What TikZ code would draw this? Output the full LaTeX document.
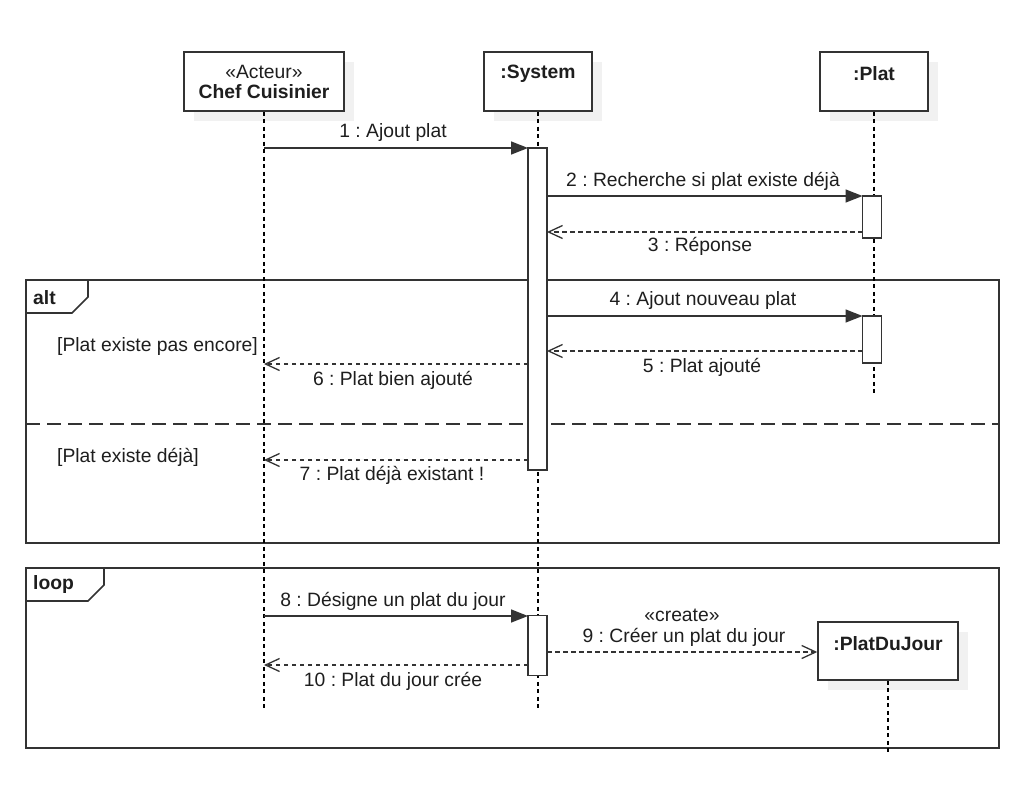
\documentclass[tikz,border=0pt]{standalone}
\usepackage{fontspec}
\setmainfont{Liberation Sans}
\usetikzlibrary{arrows.meta}
\definecolor{ln}{HTML}{333333}
\definecolor{shd}{HTML}{F1F1F1}
\definecolor{txt}{HTML}{1E1E1E}
\frenchspacing
\begin{document}
\begin{tikzpicture}[x=1pt,y=-1pt,
  font=\fontsize{19.3}{23}\selectfont, text=txt,
  objbox/.style={draw=ln, line width=1.5pt, fill=white, inner sep=0pt},
  shadowbox/.style={fill=shd, draw=none, inner sep=0pt},
  actbox/.style={draw=ln, line width=1.5pt, fill=white, inner sep=0pt, minimum width=19pt},
  lifeline/.style={draw=black, line width=1.2pt, dash pattern=on 4pt off 3.5pt},
  frameline/.style={draw=ln, line width=1.6pt},
  syncmsg/.style={draw=ln, line width=1.5pt, -{Triangle[length=17pt,width=13pt]}},
  retmsg/.style={draw=ln, line width=1.3pt, dash pattern=on 4.5pt off 3.5pt, -{Straight Barb[length=14pt,width=13pt,line width=1.3pt]}},
  lbl/.style={inner sep=0pt, anchor=center, yshift=-1.5pt},
  bold/.style={inner sep=0pt, yshift=-1.5pt, font=\fontsize{19.3}{23}\selectfont\bfseries}
]
\useasboundingbox (0,0) rectangle (1032,794);
\fill[white] (0,0) rectangle (1032,794);

% ---- frames ----
\draw[frameline] (26,280) rectangle (999,543);
\draw[frameline] (26,313) -- (72,313) -- (88,297) -- (88,280);
\node[bold, anchor=west] (altlbl) at (33,296) {alt};
\draw[draw=ln, line width=1.5pt, dash pattern=on 14pt off 7pt] (26,424) -- (999,424);
\node[lbl, anchor=west] (g1) at (57,345) {[Plat existe pas encore]};
\node[lbl, anchor=west] (g2) at (57,456) {[Plat existe déjà]};

\draw[frameline] (26,568) rectangle (999,748);
\draw[frameline] (26,601) -- (88,601) -- (104,585) -- (104,568);
\node[bold, anchor=west] (looplbl) at (33,583) {loop};

% ---- objects ----
\node[shadowbox, minimum width=160pt, minimum height=59pt] (chefs) at (274,91.5) {};
\node[objbox, minimum width=160pt, minimum height=59pt] (chef) at (264,81.5) {};
\node[lbl] (chefst) at (264,70) {«Acteur»};
\node[bold] (chefnm) at (264,90) {Chef Cuisinier};

\node[shadowbox, minimum width=108pt, minimum height=59pt] (syss) at (548,91.5) {};
\node[objbox, minimum width=108pt, minimum height=59pt] (sys) at (538,81.5) {};
\node[bold] (sysnm) at (538,72) {:System};

\node[shadowbox, minimum width=108pt, minimum height=59pt] (plats) at (884,91.5) {};
\node[objbox, minimum width=108pt, minimum height=59pt] (plat) at (874,81.5) {};
\node[bold] (platnm) at (874,72) {:Plat};

% ---- lifelines ----
\coordinate (chefend) at (264,710);
\coordinate (sysend) at (538,710);
\coordinate (platend) at (874,395);
\draw[lifeline] (chef.south) -- (chefend);
\draw[lifeline] (sys.south) -- (sysend);
\draw[lifeline] (plat.south) -- (platend);

% ---- activations ----
\node[actbox, minimum height=322pt] (a1) at (537.5,309) {};
\node[actbox, minimum height=42pt] (p1) at (872,217) {};
\node[actbox, minimum height=47pt] (p2) at (872,339.5) {};
\node[actbox, minimum height=60pt] (a2) at (537.5,645.5) {};

% ---- PlatDuJour (created) ----
\node[shadowbox, minimum width=140pt, minimum height=58pt] (pdjs) at (898,661) {};
\node[objbox, minimum width=140pt, minimum height=58pt] (pdj) at (888,651) {};
\node[bold] (pdjnm) at (888,642) {:PlatDuJour};
\coordinate (pdjend) at (888,755);
\draw[lifeline] (pdj.south) -- (pdjend);

% ---- message anchor points ----
\coordinate (m1s) at (264,148);   \coordinate (m1e) at (528,148);
\coordinate (m2s) at (547,196);   \coordinate (m2e) at (862.5,196);
\coordinate (m3s) at (862.5,232); \coordinate (m3e) at (547,232);
\coordinate (m4s) at (547,316);   \coordinate (m4e) at (862.5,316);
\coordinate (m5s) at (862.5,351); \coordinate (m5e) at (547,351);
\coordinate (m6s) at (528,364);   \coordinate (m6e) at (264,364);
\coordinate (m7s) at (528,460);   \coordinate (m7e) at (264,460);
\coordinate (m8s) at (264,616);   \coordinate (m8e) at (528,616);
\coordinate (m9s) at (547,652);
\coordinate (m10s) at (528,665);  \coordinate (m10e) at (264,665);

\draw[syncmsg] (m1s) -- (m1e);
\draw[syncmsg] (m2s) -- (m2e);
\draw[retmsg] (m3s) -- (m3e);
\draw[syncmsg] (m4s) -- (m4e);
\draw[retmsg] (m5s) -- (m5e);
\draw[retmsg] (m6s) -- (m6e);
\draw[retmsg] (m7s) -- (m7e);
\draw[syncmsg] (m8s) -- (m8e);
\draw[retmsg] (m9s) -- (pdj.west |- m9s);
\draw[retmsg] (m10s) -- (m10e);

% ---- message labels ----
\node[lbl] (l1) at (393,131) {1 : Ajout plat};
\node[lbl] (l2) at (703,180) {2 : Recherche si plat existe déjà};
\node[lbl] (l3) at (700,245) {3 : Réponse};
\node[lbl] (l4) at (703,299) {4 : Ajout nouveau plat};
\node[lbl] (l5) at (702,366) {5 : Plat ajouté};
\node[lbl] (l6) at (393,379) {6 : Plat bien ajouté};
\node[lbl] (l7) at (392,474) {7 : Plat déjà existant !};
\node[lbl] (l8) at (393,600) {8 : Désigne un plat du jour};
\node[lbl] (l9a) at (682,614) {«create»};
\node[lbl] (l9b) at (684,636) {9 : Créer un plat du jour};
\node[lbl] (l10) at (393,680) {10 : Plat du jour crée};
\end{tikzpicture}
\end{document}
